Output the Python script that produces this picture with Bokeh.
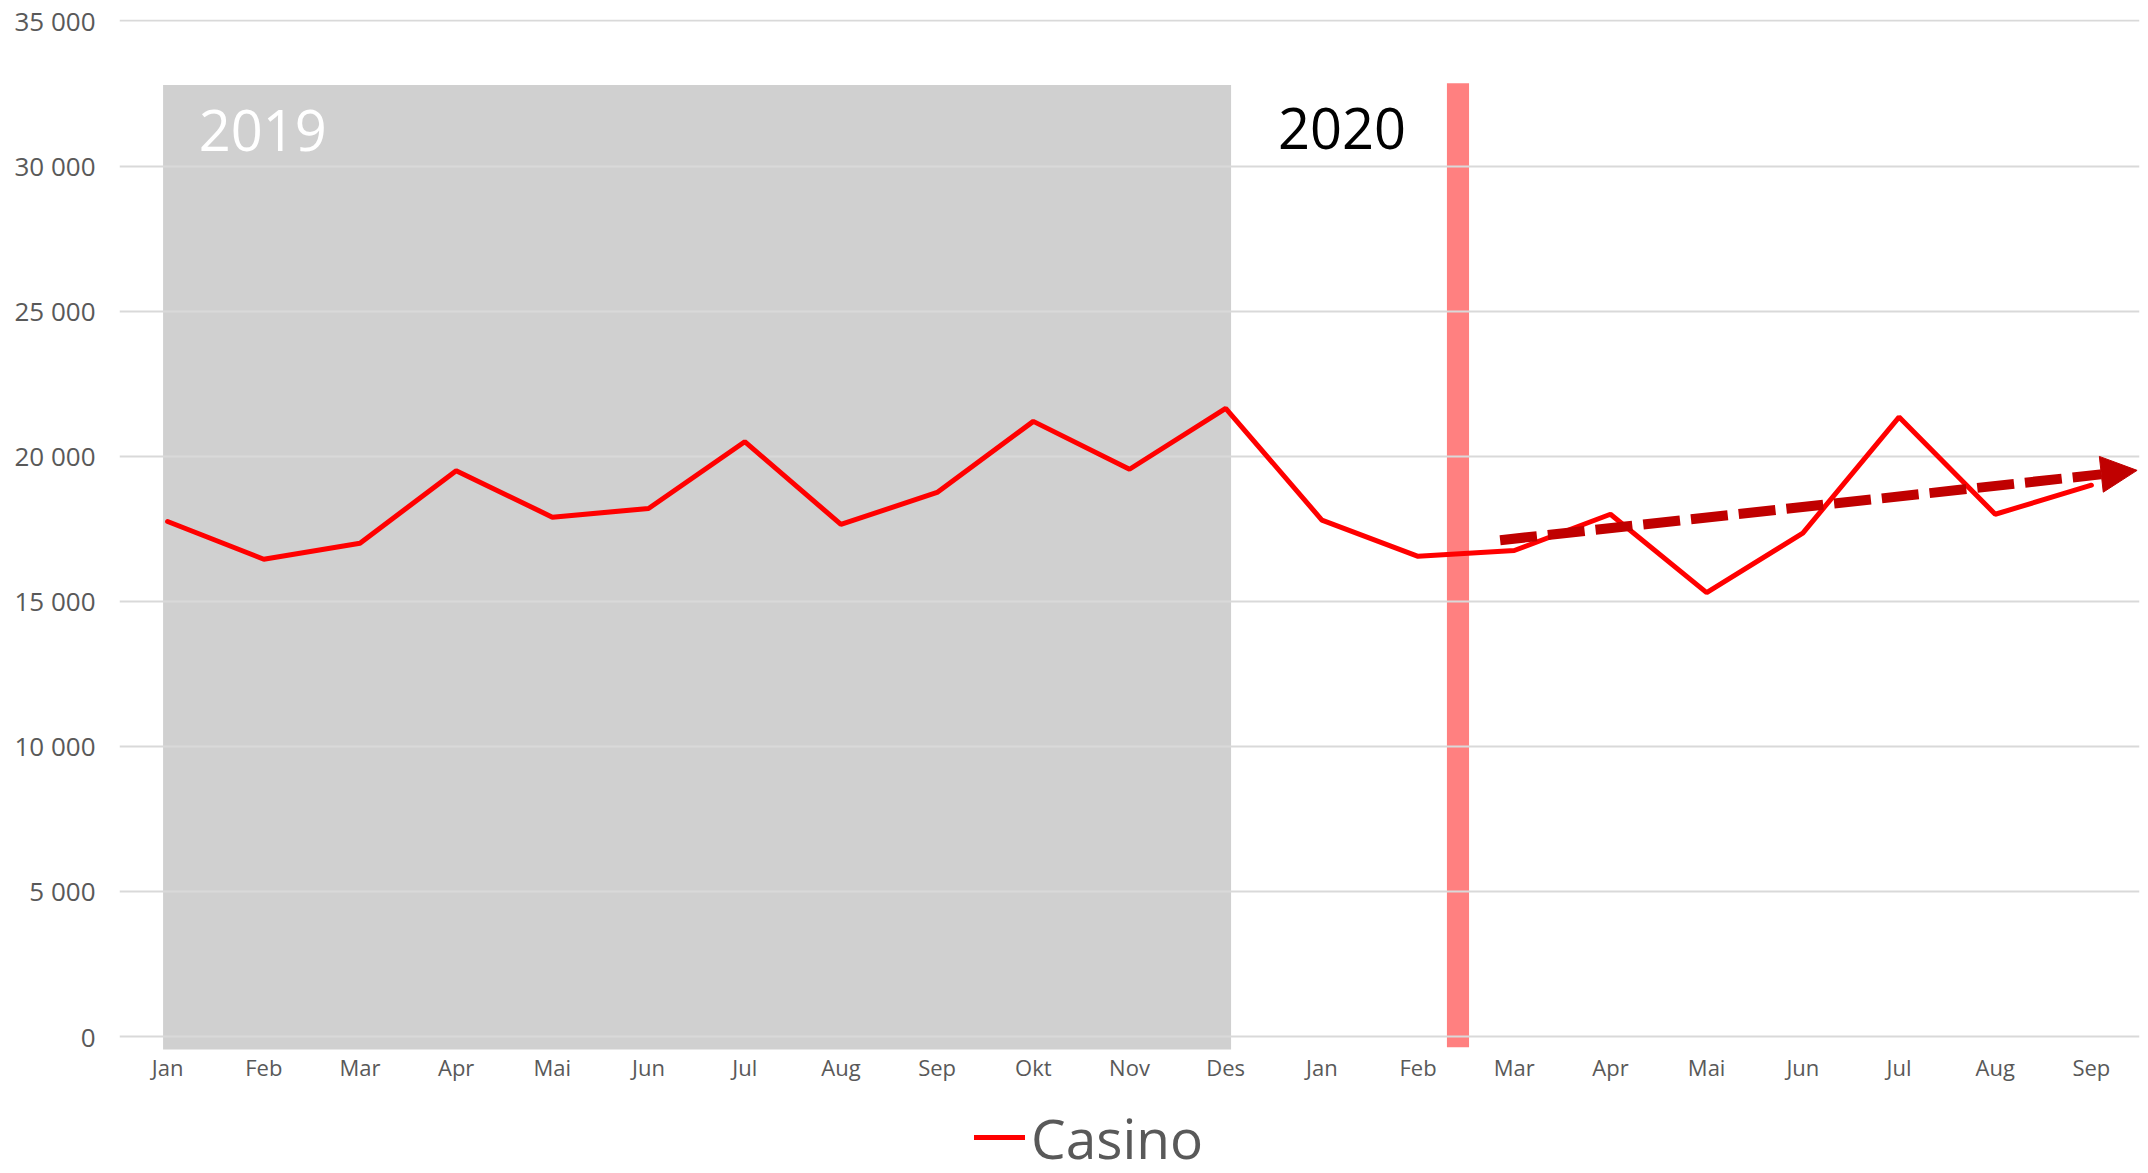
from bokeh.plotting import figure
from bokeh.models import (Range1d, FixedTicker, BoxAnnotation, Label, Arrow,
                          NormalHead, Legend, LegendItem)
from bokeh.embed import file_html
from bokeh.resources import INLINE

# ---- data ----
months = ["Jan", "Feb", "Mar", "Apr", "Mai", "Jun", "Jul", "Aug", "Sep", "Okt", "Nov", "Des",
          "Jan", "Feb", "Mar", "Apr", "Mai", "Jun", "Jul", "Aug", "Sep"]
casino = [17750, 16450, 17000, 19500, 17900, 18200, 20500, 17650, 18750, 21200, 19550, 21650,
          17800, 16550, 16750, 18000, 15300, 17350, 21350, 18000, 19000]
y_ticks = [0, 5000, 10000, 15000, 20000, 25000, 30000, 35000]
y_tick_labels = ["0", "5 000", "10 000", "15 000", "20 000", "25 000", "30 000", "35 000"]
series_name = "Casino"

x_idx = list(range(len(months)))

FONT = "Open Sans"
GREY_TXT = "#595959"
AXIS_BASE = -450  # value at the lower edge of the plotting band

p = figure(width=2148, height=1173,
           x_range=Range1d(-0.5, len(months) - 0.5),
           y_range=Range1d(-4720, 35050),
           output_backend="svg", toolbar_location=None,
           min_border_left=119, min_border_right=9,
           min_border_top=19, min_border_bottom=0)
p.outline_line_color = None
p.background_fill_color = "white"
p.border_fill_color = "white"

# axes
p.xaxis.ticker = FixedTicker(ticks=x_idx)
p.xaxis.major_label_overrides = {i: m for i, m in zip(x_idx, months)}
p.xaxis.fixed_location = AXIS_BASE
p.yaxis.ticker = FixedTicker(ticks=y_ticks)
p.yaxis.major_label_overrides = {t: l for t, l in zip(y_ticks, y_tick_labels)}
for ax in (p.xaxis[0], p.yaxis[0]):
    ax.axis_line_color = None
    ax.major_tick_line_color = None
    ax.minor_tick_line_color = None
    ax.major_tick_out = 0
    ax.major_tick_in = 0
    ax.major_label_text_font = FONT
    ax.major_label_text_color = GREY_TXT
p.xaxis.major_label_text_font_size = "22px"
p.xaxis.major_label_standoff = 2
p.yaxis.major_label_text_font_size = "26px"
p.yaxis.major_label_standoff = 24

p.xgrid.grid_line_color = None
p.ygrid.grid_line_color = "#D9D9D9"
p.ygrid.grid_line_width = 2

# shaded 2019 block and marker bar
p.add_layout(BoxAnnotation(left=-0.047, right=11.056, bottom=AXIS_BASE, top=32790,
                           fill_color="#D0D0D0", fill_alpha=1.0, line_color=None,
                           level="image"))
p.add_layout(BoxAnnotation(left=13.30, right=13.53, bottom=-370, top=32857,
                           fill_color="#FF8080", fill_alpha=1.0, line_color=None,
                           level="image"))

# main series
line = p.line(x_idx, casino, line_color="#FF0000", line_width=5, line_cap="round")

# trend arrow
p.add_layout(Arrow(x_start=13.853, y_start=17105, x_end=20.475, y_end=19512,
                   line_color="#C00000", line_width=10, line_dash="37 11",
                   end=NormalHead(size=36, fill_color="#C00000", line_color="#C00000",
                                  line_width=1)))

# year labels
p.add_layout(Label(x=0.99, y=31240, text="2019", text_align="center",
                   text_baseline="alphabetic", text_font=FONT, text_font_size="56px",
                   text_color="white"))
p.add_layout(Label(x=12.21, y=31280, text="2020", text_align="center",
                   text_baseline="alphabetic", text_font=FONT, text_font_size="56px",
                   text_color="black"))

# legend
legend = Legend(items=[LegendItem(label=series_name, renderers=[line])],
                location=(855, -2), orientation="horizontal",
                glyph_width=51, glyph_height=76, label_height=76,
                label_standoff=6, label_text_font=FONT, label_text_font_size="55px",
                label_text_color=GREY_TXT, border_line_color=None,
                background_fill_alpha=0, padding=0, margin=0, spacing=0)
p.add_layout(legend)

open("out.html", "w").write(file_html(p, INLINE))
